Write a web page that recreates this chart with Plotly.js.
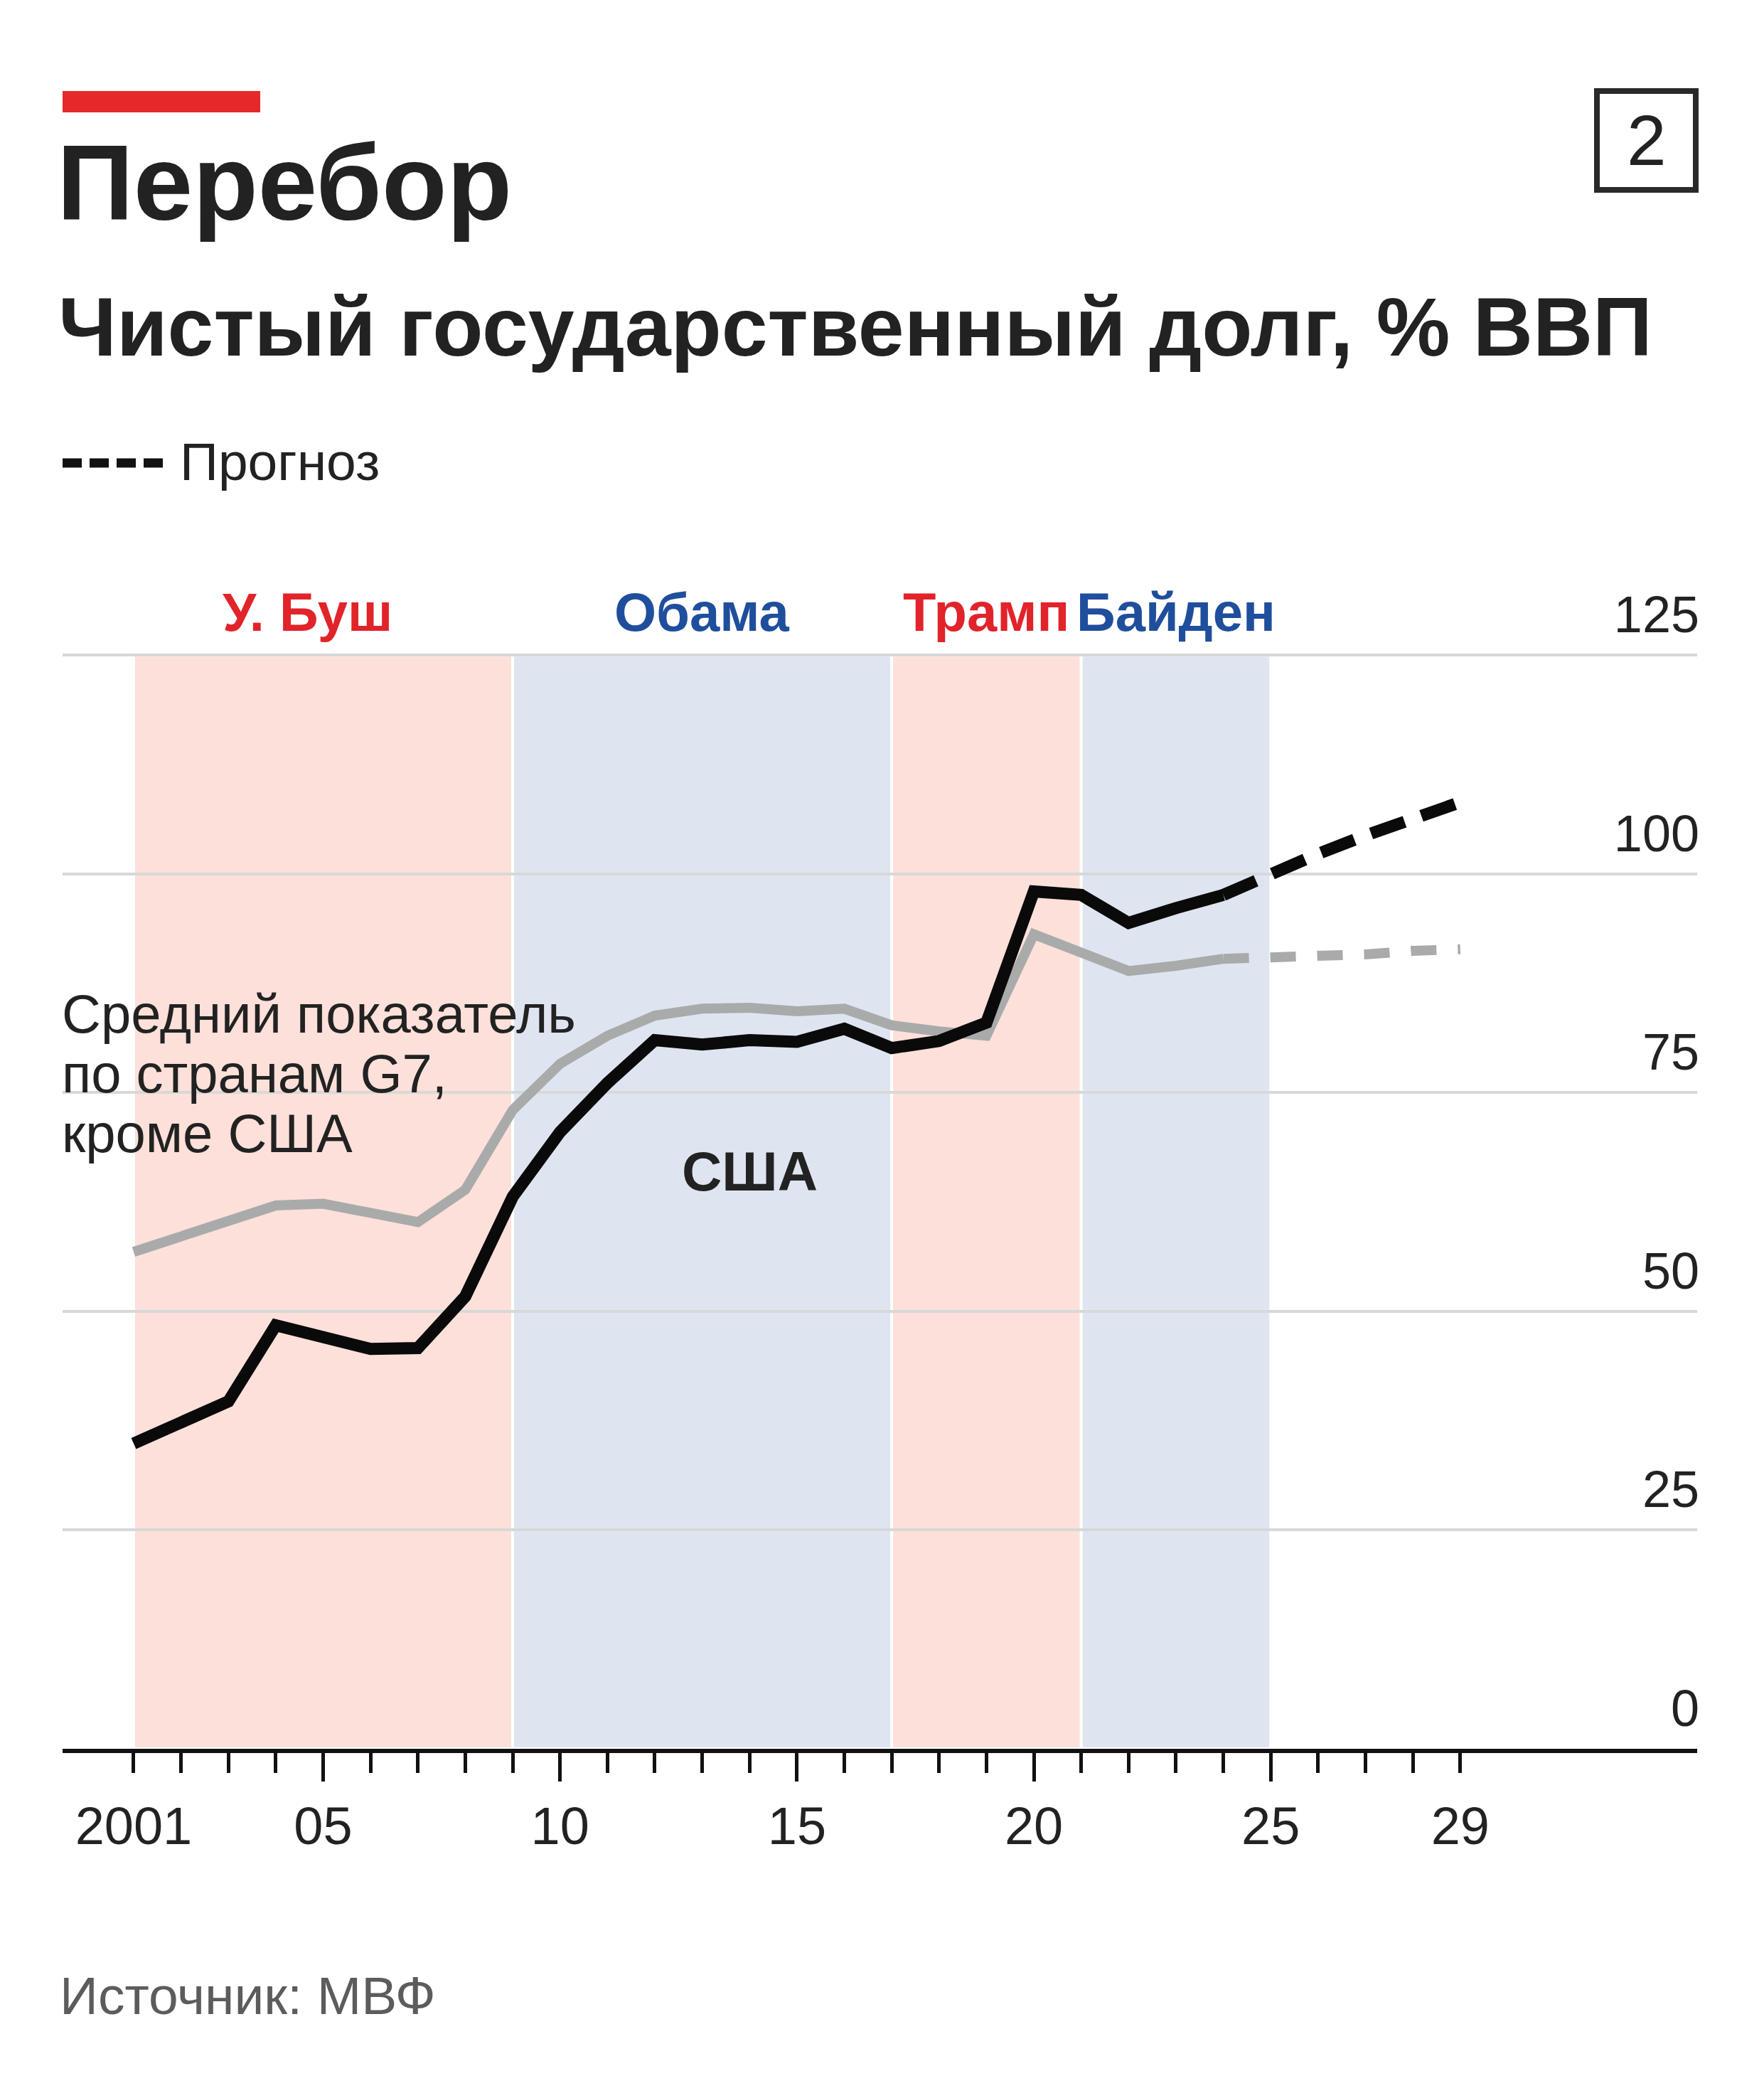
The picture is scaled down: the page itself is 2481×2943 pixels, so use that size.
<!DOCTYPE html>
<html>
<head>
<meta charset="utf-8">
<script src="https://cdn.plot.ly/plotly-3.0.1.min.js"></script>
<style>
  html, body { margin: 0; padding: 0; background: #ffffff; }
  #chart { width: 2481px; height: 2943px; }
</style>
</head>
<body>
<div id="chart"></div>
<script>
// ============================================================
// Net government debt, % of GDP — USA vs G7 average ex-USA
// ============================================================

const years = [2001, 2002, 2003, 2004, 2005, 2006, 2007, 2008, 2009, 2010, 2011, 2012,
  2013, 2014, 2015, 2016, 2017, 2018, 2019, 2020, 2021, 2022, 2023, 2024];
const usDebt = [34.9, 37.3, 39.7, 48.4, 47.1, 45.7, 45.8, 51.7, 63.1, 70.5, 76.1, 81.0,
  80.5, 81.0, 80.8, 82.3, 80.1, 80.9, 83.0, 98.0, 97.6, 94.4, 96.1, 97.6];
const g7Debt = [56.8, 58.6, 60.4, 62.1, 62.3, 61.3, 60.2, 63.9, 73.0, 78.3, 81.5, 83.8,
  84.6, 84.7, 84.3, 84.6, 82.7, 82.0, 81.5, 93.1, 91.0, 88.9, 89.5, 90.3];

const forecastYears = [2024, 2025, 2026, 2027, 2028, 2029];
const usForecast = [97.6, 100.1, 102.3, 104.4, 106.4, 108.2];
const g7Forecast = [90.3, 90.4, 90.7, 90.8, 91.2, 91.4];

const presidents = ['У. Буш', 'Обама', 'Трамп', 'Байден'];
const termStart = [2001, 2009, 2017, 2021];
const termEnd = [2009, 2017, 2021, 2025];
const party = ['R', 'D', 'R', 'D'];

const tickYears = [2001, 2002, 2003, 2004, 2005, 2006, 2007, 2008, 2009, 2010, 2011, 2012,
  2013, 2014, 2015, 2016, 2017, 2018, 2019, 2020, 2021, 2022, 2023, 2024, 2025, 2026,
  2027, 2028, 2029];
const majorTickYears = [2005, 2010, 2015, 2020, 2025];
const labeledYears = [2001, 2005, 2010, 2015, 2020, 2025, 2029];
const yearLabels = ['2001', '05', '10', '15', '20', '25', '29'];
const yTicks = [0, 25, 50, 75, 100, 125];

// ---- page geometry (pixels) ----
const W = 2481, H = 2943;
const Y_TOP = 921, Y_ZERO = 2459;          // pixel rows of 125 and 0
const Y_MAX = 126;                          // a little headroom so the 125 grid line shows
const PH = (Y_ZERO - Y_TOP) * Y_MAX / 125;
const M = { l: 88, r: 94, t: Math.round(Y_ZERO - PH), b: H - Y_ZERO };
const PW = W - M.l - M.r;
const FONT = 'Liberation Sans, Arial, Helvetica, sans-serif';
const INK = '#222222';

// page pixel -> paper coordinates
function px(x) { return (x - M.l) / PW; }
function py(y) { return (Y_ZERO - y) / (Y_ZERO - M.t); }

const shadeFill = { R: '#fde0d9', D: '#dfe5f0' };
const labelColor = { R: '#e1232a', D: '#1f4e9c' };
const labelNudge = [-22, 0, 0, 0];

// ---- traces ----
const traces = [
  {
    x: years, y: g7Debt, mode: 'lines', name: 'G7 без США',
    line: { color: '#a9abab', width: 14, shape: 'linear' },
    hoverinfo: 'x+y'
  },
  {
    x: forecastYears, y: g7Forecast, mode: 'lines', name: 'G7 прогноз',
    xaxis: 'x2',
    line: { color: '#a9abab', width: 14, dash: '36px,30px' },
    hoverinfo: 'x+y'
  },
  {
    x: years, y: usDebt, mode: 'lines', name: 'США',
    line: { color: '#0a0a0a', width: 17, shape: 'linear' },
    hoverinfo: 'x+y'
  },
  {
    x: forecastYears, y: usForecast, mode: 'lines', name: 'США прогноз',
    line: { color: '#0a0a0a', width: 17, dash: '50px,25px' },
    hoverinfo: 'x+y'
  }
];

// ---- presidential term shading + labels ----
const shapes = presidents.map((p, i) => ({
  type: 'rect', xref: 'x', yref: 'y',
  x0: termStart[i], x1: termEnd[i], y0: 0, y1: 125,
  fillcolor: shadeFill[party[i]],
  line: { color: '#ffffff', width: 4 },
  layer: 'below'
}));

const annotations = presidents.map((p, i) => ({
  text: '<b>' + p + '</b>',
  x: (termStart[i] + termEnd[i]) / 2, xref: 'x',
  y: py(860), yref: 'paper',
  xanchor: 'center', yanchor: 'middle', showarrow: false,
  xshift: labelNudge[i],
  font: { family: FONT, size: 76, color: labelColor[party[i]] }
}));

// header: red bar, number box, forecast key
shapes.push(
  {
    type: 'rect', xref: 'paper', yref: 'paper',
    x0: 0, x1: px(366), y0: py(158), y1: py(128),
    fillcolor: '#e5292a', line: { width: 0 }
  },
  {
    type: 'rect', xref: 'paper', yref: 'paper',
    x0: px(2246), x1: px(2385), y0: py(267), y1: py(128),
    fillcolor: 'rgba(0,0,0,0)', line: { color: '#2a2a2a', width: 8 }
  },
  {
    type: 'line', xref: 'paper', yref: 'paper',
    x0: 0, x1: px(229), y0: py(651), y1: py(651),
    line: { color: '#111111', width: 13, dash: '27px,11px' }
  }
);

annotations.push(
  {
    text: '<b>Перебор</b>', xref: 'paper', yref: 'paper',
    x: 0, y: py(257), xanchor: 'left', yanchor: 'middle', xshift: -10,
    showarrow: false, font: { family: FONT, size: 150, color: INK }
  },
  {
    text: '<b>Чистый государственный долг, % ВВП</b>', xref: 'paper', yref: 'paper',
    x: 0, y: py(459), xanchor: 'left', yanchor: 'middle', xshift: -8,
    showarrow: false, font: { family: FONT, size: 116.6, color: INK }
  },
  {
    text: 'Прогноз', xref: 'paper', yref: 'paper',
    x: px(251), y: py(649), xanchor: 'left', yanchor: 'middle',
    showarrow: false, font: { family: FONT, size: 75, color: INK }
  },
  {
    text: '2', xref: 'paper', yref: 'paper',
    x: px(2316), y: py(197), xanchor: 'center', yanchor: 'middle',
    showarrow: false, font: { family: FONT, size: 100, color: INK }
  },
  {
    text: '<b>США</b>', xref: 'x', yref: 'y',
    x: 2014, y: 66, xanchor: 'center', yanchor: 'middle',
    showarrow: false, font: { family: FONT, size: 78, color: INK }
  },
  {
    text: 'Источник: МВФ', xref: 'paper', yref: 'paper',
    x: 0, y: py(2806), xanchor: 'left', yanchor: 'middle', xshift: -6,
    showarrow: false, font: { family: FONT, size: 75, color: '#5c5c5c' }
  }
);

// G7 caption, one annotation per line to keep the tight leading
['Средний показатель', 'по странам G7,', 'кроме США'].forEach((line, i) => {
  annotations.push({
    text: line, xref: 'paper', yref: 'paper',
    x: 0, y: py(1425 + i * 84), xanchor: 'left', yanchor: 'middle', xshift: -3,
    showarrow: false, font: { family: FONT, size: 76, color: INK }
  });
});

const xRange = [1999.5, 2034];

const layout = {
  width: W, height: H,
  margin: M,
  paper_bgcolor: '#ffffff',
  plot_bgcolor: '#ffffff',
  showlegend: false,
  font: { family: FONT, color: INK },
  xaxis: {
    range: xRange,
    tickmode: 'array',
    tickvals: tickYears,
    ticktext: tickYears.map(y => {
      const k = labeledYears.indexOf(y);
      return k >= 0 ? yearLabels[k] : '';
    }),
    ticks: 'outside', ticklen: 28, tickwidth: 5, tickcolor: '#111111',
    ticklabelstandoff: 11,
    showline: true, linecolor: '#111111', linewidth: 6,
    showgrid: false, zeroline: false,
    tickfont: { family: FONT, size: 74, color: INK },
    fixedrange: true
  },
  xaxis2: {
    range: xRange,
    overlaying: 'x', anchor: 'y', side: 'bottom',
    tickmode: 'array',
    tickvals: majorTickYears,
    ticks: 'outside', ticklen: 45, tickwidth: 5, tickcolor: '#111111',
    showticklabels: false, showline: false, showgrid: false, zeroline: false,
    fixedrange: true
  },
  yaxis: {
    range: [0, Y_MAX],
    side: 'right',
    tickmode: 'array',
    tickvals: yTicks,
    ticks: '',
    ticklabelposition: 'inside top',
    ticklabeloverflow: 'allow',
    ticklabelshift: -7,
    ticklabelstandoff: -6,
    showgrid: true, gridcolor: '#d8d8d8', gridwidth: 4,
    zeroline: false, showline: false,
    tickfont: { family: FONT, size: 72, color: INK },
    fixedrange: true
  },
  shapes: shapes,
  annotations: annotations
};

Plotly.newPlot('chart', traces, layout, { staticPlot: true, displayModeBar: false });
</script>
</body>
</html>
